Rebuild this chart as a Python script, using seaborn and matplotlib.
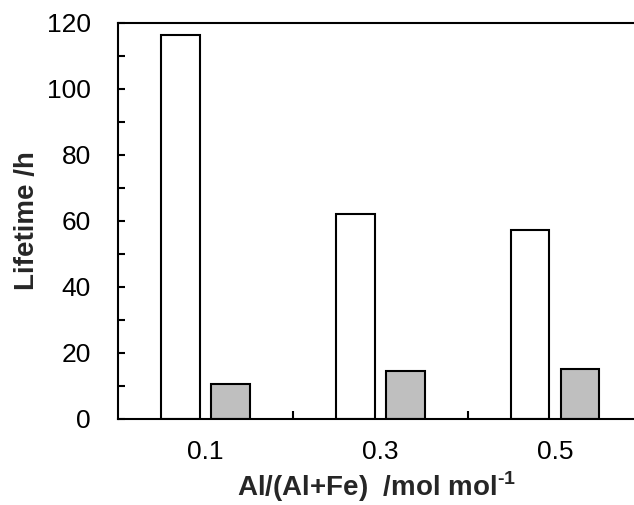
import matplotlib
matplotlib.use("Agg")
import matplotlib.pyplot as plt
from matplotlib.ticker import MultipleLocator, FixedLocator
import seaborn as sns
import pandas as pd

# Al/(Al+Fe) molar ratios on the category axis
ratios = ["0.1", "0.3", "0.5"]
# catalyst lifetime (h) for the two sample series
lifetime_open = [116.2, 62.0, 57.2]
lifetime_filled = [10.6, 14.6, 15.0]
series_names = ["open", "filled"]

df = pd.DataFrame({
    "ratio": ratios * 2,
    "lifetime": lifetime_open + lifetime_filled,
    "series": [series_names[0]] * len(ratios) + [series_names[1]] * len(ratios),
})

sns.set_style("white")
plt.rcParams["font.family"] = ["Liberation Sans", "DejaVu Sans"]
plt.rcParams["mathtext.fontset"] = "custom"
plt.rcParams["mathtext.rm"] = "Liberation Sans:bold"
plt.rcParams["mathtext.bf"] = "Liberation Sans:bold"

fig = plt.figure(figsize=(6.34, 5.05), dpi=100)
ax = fig.add_axes([0.1861, 0.1703, 0.8139, 0.785])

sns.barplot(
    data=df, x="ratio", y="lifetime", hue="series",
    hue_order=series_names,
    palette={"open": "white", "filled": "#bfbfbf"},
    width=0.572, gap=0.23, edgecolor="black", linewidth=1.5,
    errorbar=None, legend=False, ax=ax,
)

ax.set_xlim(-0.5, 2.451)
ax.set_ylim(0, 120)

for side in ("left", "top", "bottom"):
    ax.spines[side].set_color("black")
    ax.spines[side].set_linewidth(1.5)
ax.spines["right"].set_visible(False)

ax.yaxis.set_major_locator(MultipleLocator(20))
ax.yaxis.set_minor_locator(MultipleLocator(10))
ax.tick_params(axis="y", which="both", direction="in", left=True, right=False,
               length=5, width=1.5, color="black")
ax.tick_params(axis="y", which="major", pad=19.5, labelsize=19, labelcolor="black")

ax.xaxis.set_minor_locator(FixedLocator([0.5, 1.5]))
ax.tick_params(axis="x", which="major", length=0, pad=15, labelsize=19, labelcolor="black")
ax.tick_params(axis="x", which="minor", direction="in", bottom=True, top=False,
               length=5.5, width=1.5, color="black")

ax.set_xlabel(r"Al/(Al+Fe)  /mol mol$^{\text{-1}}$", fontsize=20,
              fontweight="bold", labelpad=4)
ax.set_ylabel("Lifetime /h", fontsize=20, fontweight="bold", labelpad=5)

fig.savefig("out.png", dpi=100)
